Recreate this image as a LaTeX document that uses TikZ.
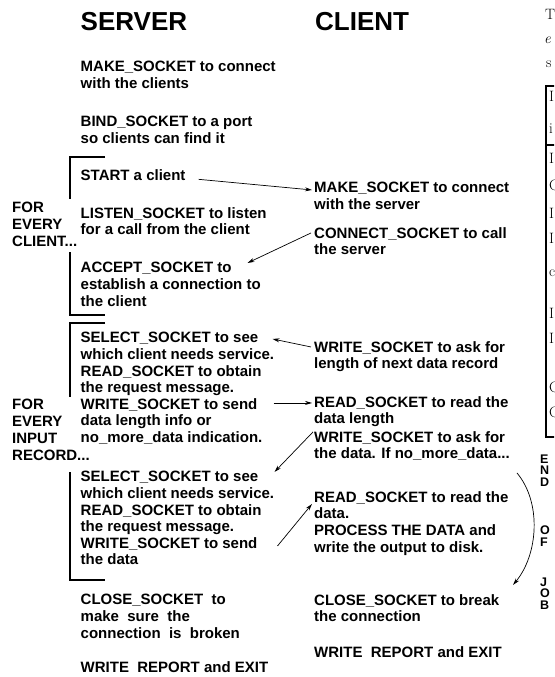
\documentclass[tikz,border=0pt]{standalone}
\usepackage{fontspec}
\setsansfont{Liberation Sans}
\usetikzlibrary{calc,arrows.meta}
\begin{document}
\begin{tikzpicture}[x=1pt,y=-1pt,
  txt/.style={font=\sffamily\bfseries\fontsize{15}{16.6}\selectfont, anchor=north west, yshift=10.74pt, inner sep=0pt, align=left},
  lbl/.style={font=\sffamily\bfseries\fontsize{15}{16.8}\selectfont, anchor=north west, yshift=10.74pt, inner sep=0pt, align=left},
  hdr/.style={font=\sffamily\bfseries\fontsize{26}{30}\selectfont, anchor=base west, inner sep=0pt},
  endw/.style={font=\sffamily\bfseries\fontsize{12.5}{11.6}\selectfont, anchor=north west, yshift=8.95pt, inner sep=0pt, align=left},
  serif/.style={font=\rmfamily\fontsize{15}{18}\selectfont, anchor=base west, inner sep=0pt},
  arr/.style={-{Stealth[length=7pt,width=4pt]}, line width=0.7pt},
  brk/.style={line width=1.8pt}]
\fill[white] (0,0) rectangle (554,677);
\useasboundingbox (0,0) rectangle (554,677);

% headers
\node[hdr] (shdr) at (80.5,31) {SERVER};
\node[hdr] (chdr) at (315,31) {CLIENT};

% server column
\node[txt] (smake) at (80.5,72) {MAKE\_SOCKET to connect\\with the clients};
\node[txt] (sbind) at (80.5,127) {BIND\_SOCKET to a port\\so clients can find it};
\node[txt] (sstart) at (80.5,180) {START a client};
\node[txt] (slisten) at (80.5,218) {LISTEN\_SOCKET to listen\\for a call from the client};
\node[txt] (saccept) at (80.5,273) {ACCEPT\_SOCKET to\\establish a connection to\\the client};
\node[txt] (sselA) at (80.5,343) {SELECT\_SOCKET to see\\which client needs service.\\READ\_SOCKET to obtain\\the request message.\\WRITE\_SOCKET to send\\data length info or\\no\_more\_data indication.};
\node[txt] (sselB) at (80.5,482) {SELECT\_SOCKET to see\\which client needs service.\\READ\_SOCKET to obtain\\the request message.\\WRITE\_SOCKET to send\\the data};
\node[txt] (sclose) at (80.5,605) {CLOSE\_SOCKET\ \ to\\make\ \ sure\ \ the\\connection\ \ is\ \ broken};
\node[txt] (sreport) at (80.5,672) {WRITE\ \ REPORT and EXIT};

% loop labels
\node[lbl] (lclient) at (12,213) {FOR\\EVERY\\CLIENT...};
\node[lbl] (lrecord) at (12,410) {FOR\\EVERY\\INPUT\\RECORD...};

% brackets
\draw[brk] (105,157) -- (70,157) -- (70,199);
\draw[brk] (70,252) -- (70,315) -- (105,315);
\draw[brk] (105,323) -- (70,323) -- (70,397);
\draw[brk] (70,472) -- (70,580) -- (105,580);

% client column
\node[txt] (cmake) at (314,193) {MAKE\_SOCKET to connect\\with the server};
\node[txt] (cconnect) at (314,238) {CONNECT\_SOCKET to call\\the server};
\node[txt] (cwriteA) at (314,352) {WRITE\_SOCKET to ask for\\length of next data record};
\node[txt] (creadA) at (314,407) {READ\_SOCKET to read the\\data length};
\node[txt] (cwriteB) at (314,442) {WRITE\_SOCKET to ask for\\the data. If no\_more\_data...};
\node[txt] (creadB) at (314,502) {READ\_SOCKET to read the\\data.\\PROCESS THE DATA and\\write the output to disk.};
\node[txt] (cclose) at (314,605) {CLOSE\_SOCKET to break\\the connection};
\node[txt] (creport) at (314,657) {WRITE\ \ REPORT and EXIT};

% end of job
\node[endw] (wend) at (540,463.5) {E\\N\\D};
\node[endw] (wof) at (540,534.5) {O\\F};
\node[endw] (wjob) at (540,586.5) {J\\O\\B};

% arrows
\draw[arr] ($(sstart.base east)+(13,-1)$) -- ($(cmake.north west)+(-2,7.7)$);
\draw[arr] ($(cconnect.north west)+(-3,5.7)$) -- ($(saccept.north west)+(167,0.7)$);
\draw[arr] ($(cwriteA.north west)+(-3,5.7)$) -- ($(sselA.north west)+(192,6.7)$);
\draw[arr] ($(sselA.north west)+(193,70.7)$) -- ($(creadA.north west)+(-2,6.7)$);
\draw[arr] ($(cwriteB.north west)+(-1,0.7)$) -- ($(sselB.north west)+(194,0.7)$);
\draw[arr] ($(sselB.north west)+(197,74.7)$) -- ($(creadB.north west)+(-2,12.7)$);
\draw[arr] ($(cwriteB.north west)+(203,41.7)$) .. controls +(25,30) and +(25,-30) .. ($(cclose.north west)+(199,-9.3)$);

% fragment of neighbouring page at the right edge
\begin{scope}
\clip (0,0) rectangle (554,677);
\node[serif] (fT) at (545,20) {T};
\node[serif] (fe) at (544,44) {\itshape e};
\node[serif] (fs) at (546,67) {s};
\draw[line width=2pt] (546,86) rectangle (580,437);
\draw[line width=1.5pt] (546,145) -- (580,145);
\node[serif] (f1) at (549,101) {I};
\node[serif] (f2) at (549,133) {i};
\node[serif] (f3) at (549,163) {I};
\node[serif] (f4) at (549,190) {C};
\node[serif] (f5) at (549,218) {I};
\node[serif] (f6) at (549,243) {I};
\node[serif] (f7) at (549,276) {c};
\node[serif] (f8) at (549,318) {I};
\node[serif] (f9) at (549,343) {I};
\node[serif] (f10) at (549,392) {C};
\node[serif] (f11) at (549,417) {C};
\end{scope}
\end{tikzpicture}
\end{document}
